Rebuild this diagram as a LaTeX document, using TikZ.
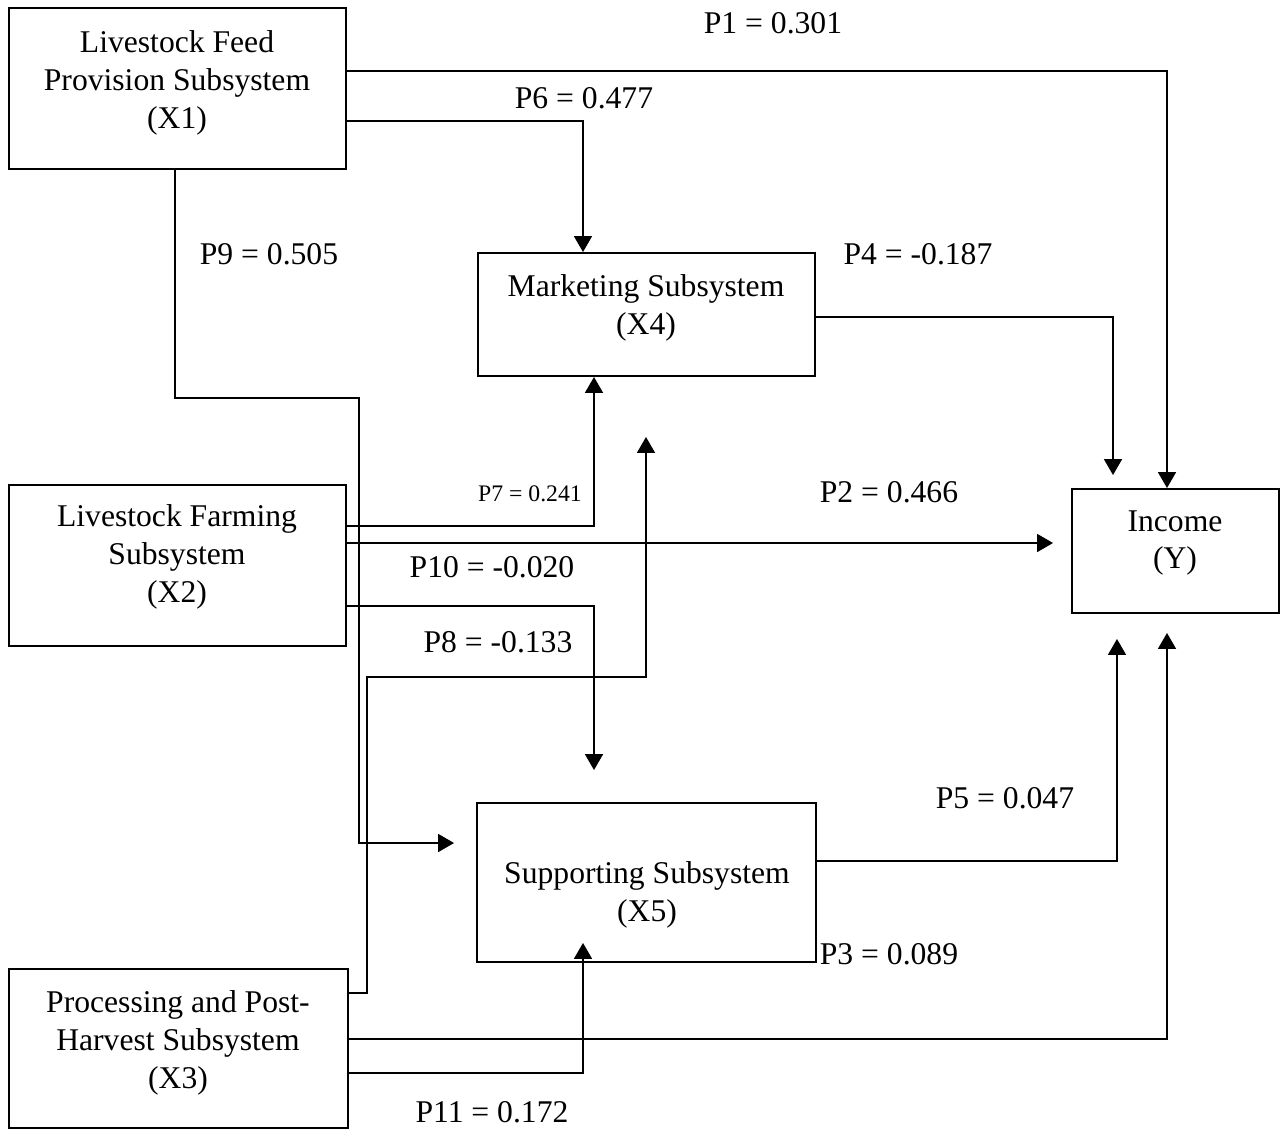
\documentclass[tikz,border=0pt]{standalone}
\usepackage{fontspec}
\setmainfont{Liberation Serif}
\usetikzlibrary{arrows.meta,calc}
\begin{document}
\begin{tikzpicture}[x=0.02cm,y=-0.02cm,
 box/.style={draw,line width=1.1pt,inner sep=0pt},
 txt/.style={align=center,inner sep=0pt,font=\fontsize{18}{21.6}\selectfont},
 lbl/.style={inner sep=0pt,font=\fontsize{18}{20}\selectfont},
 smalllbl/.style={inner sep=0pt,font=\fontsize{13.5}{15}\selectfont},
 conn/.style={line width=1pt},
 arr/.style={conn,-{Triangle[length=0.32cm,width=0.36cm]}}]
\useasboundingbox (0,0) rectangle (1282,1129);
% boxes
\node[box,minimum width=6.74cm,minimum height=3.22cm] (x1) at (177.5,88.5) {};
\node[box,minimum width=6.74cm,minimum height=2.46cm] (x4) at (646.5,314.5) {};
\node[box,minimum width=4.14cm,minimum height=2.48cm] (y) at (1175.5,551) {};
\node[box,minimum width=6.74cm,minimum height=3.22cm] (x2) at (177.5,565.5) {};
\node[box,minimum width=6.78cm,minimum height=3.18cm] (x5) at (646.5,882.5) {};
\node[box,minimum width=6.78cm,minimum height=3.18cm] (x3) at (178.5,1048.5) {};
% box texts
\node[txt] (t1) at (177,83) {Livestock Feed\\Provision Subsystem\\(X1)};
\node[txt] (t4) at (646,308) {Marketing Subsystem\\(X4)};
\node[txt] (ty) at (1175,543) {Income\\(Y)};
\node[txt] (t2) at (177,557) {Livestock Farming\\Subsystem\\(X2)};
\node[txt] (t5) at (647,895) {Supporting Subsystem\\(X5)};
\node[txt] (t3) at (178,1043) {Processing and Post-\\Harvest Subsystem\\(X3)};
% coordinates
\coordinate (c1) at (1167,71);
\coordinate (c6) at (583,121);
\coordinate (c9a) at (175,398);
\coordinate (c9b) at (359,398);
\coordinate (c9c) at (359,843);
\coordinate (c4) at (1113,317);
\coordinate (c7) at (594,526);
\coordinate (c2) at (1054,543);
\coordinate (c8) at (594,606);
\coordinate (c10a) at (367,993);
\coordinate (c10b) at (367,677);
\coordinate (c10c) at (646,677);
\coordinate (c5) at (1117,861);
\coordinate (c3) at (1167,1039);
\coordinate (c11) at (583,1073);
% connectors
\draw[arr] (x1.east |- c1) -- (c1) -- (y.north -| c1);
\draw[arr] (x1.east |- c6) -- (c6) -- (x4.north -| c6);
\draw[arr] (x1.south -| c9a) -- (c9a) -- (c9b) -- (c9c) -- ($(x5.west |- c9c)+(-22,0)$);
\draw[arr] (x4.east |- c4) -- (c4) -- ($(y.north -| c4)+(0,-13)$);
\draw[arr] (x2.east |- c7) -- (c7) -- (x4.south -| c7);
\draw[arr] (x2.east |- c2) -- ($(y.west |- c2)+(-18,0)$);
\draw[arr] (x2.east |- c8) -- (c8) -- ($(x5.north -| c8)+(0,-32)$);
\draw[arr] (x3.east |- c10a) -- (c10a) -- (c10b) -- (c10c) -- ($(x4.south -| c10c)+(0,60)$);
\draw[arr] (x5.east |- c5) -- (c5) -- ($(y.south -| c5)+(0,25)$);
\draw[arr] (x3.east |- c3) -- (c3) -- ($(y.south -| c3)+(0,19)$);
\draw[arr] (x3.east |- c11) -- (c11) -- ($(x5.south -| c11)+(0,-20)$);
% labels
\node[lbl] (l1) at (773,23) {P1 = 0.301};
\node[lbl] (l6) at (584,98) {P6 = 0.477};
\node[lbl] (l9) at (269,254) {P9 = 0.505};
\node[lbl] (l4) at (918,254) {P4 = -0.187};
\node[smalllbl] (l7) at (530,494) {P7 = 0.241};
\node[lbl] (l2) at (889,492) {P2 = 0.466};
\node[lbl] (l10) at (492,567) {P10 = -0.020};
\node[lbl] (l8) at (498,642) {P8 = -0.133};
\node[lbl] (l5) at (1005,798) {P5 = 0.047};
\node[lbl] (l3) at (889,954) {P3 = 0.089};
\node[lbl] (l11) at (492,1112) {P11 = 0.172};
\end{tikzpicture}
\end{document}
